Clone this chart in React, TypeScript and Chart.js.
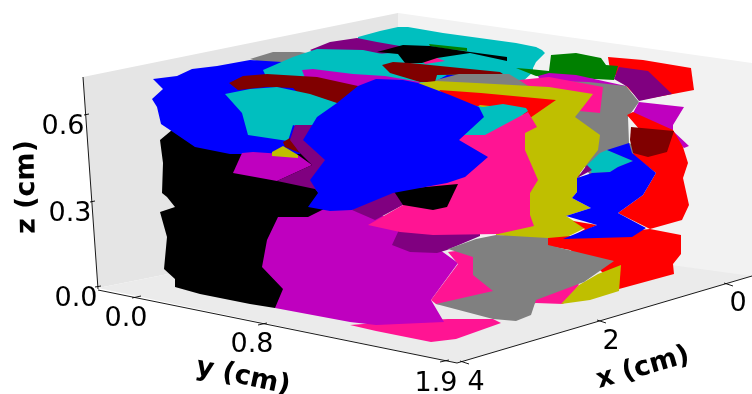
import React, { useEffect, useRef } from "react";
import { Chart, registerables } from "chart.js";

Chart.register(...registerables);

type P = number[][];

const paneLeft: P = [[83,77],[398,13],[398,228],[98,288]];
const paneRight: P = [[398,13],[752,63],[752,277],[398,228]];
const paneFloor: P = [[98,288],[398,228],[752,276],[457,363]];

const grayBack: P = [[250,59],[273,52],[300,52],[320,55],[320,65],[270,65]];
const cyanTop: P = [[358,37],[380,31],[398,27],[408,27],[443,33],[516,43],[536,47],[542,50],[545,53],[536,62],[533,68],[533,72],[520,84],[430,86],[358,72]];
const purpleTop: P = [[310,50],[330,42],[357,38],[377,42],[400,46],[403,52],[377,54],[320,56]];
const cyanMid: P = [[263,70],[293,57],[317,49],[363,50],[387,55],[403,63],[420,80],[270,85]];
const greenSmall: P = [[429,44],[467,48],[467,51],[447,49],[430,46]];
const pinkSmall: P = [[421,59],[437,58],[445,61],[425,64]];
const blackTop: P = [[377,52],[403,45],[430,46],[470,52],[507,57],[507,61],[470,53],[437,58],[422,63],[405,63],[398,54]];
const maroonTop: P = [[382,65],[393,62],[410,63],[500,72],[503,74],[437,75],[435,82],[420,82],[390,73]];
const magentaStrip: P = [[302,70],[313,69],[353,74],[385,76],[420,82],[425,100],[330,110],[305,78]];
const maroonLeft: P = [[229,83],[243,76],[267,74],[317,77],[358,86],[350,115],[320,115],[293,88],[267,87],[238,90]];
const blackLeft: P = [[172,130],[160,140],[163,163],[162,193],[167,197],[175,207],[160,212],[167,237],[164,269],[175,279],[175,287],[200,294],[250,304],[275,308],[330,300],[335,215],[335,150],[230,120]];
const blueBack: P = [[153,79],[177,76],[192,69],[217,66],[250,60],[282,62],[300,80],[320,120],[300,154],[273,154],[230,154],[195,147],[170,130],[161,124],[157,107],[152,99],[163,89],[157,83]];
const cyanLeft: P = [[225,94],[250,89],[277,87],[310,94],[337,103],[345,125],[320,135],[293,125],[288,141],[248,135],[242,113]];
const magentaSmall: P = [[242,153],[253,152],[298,155],[312,165],[277,181],[233,173]];
const yellowSmall: P = [[272,152],[283,146],[298,155],[298,158],[272,156]];
const maroonSmall: P = [[283,142],[290,138],[300,153],[285,147]];
const purpleCentre: P = [[295,125],[325,125],[335,160],[325,200],[315,189],[277,181],[312,165],[300,153],[290,140]];

const redBack: P = [[608,57],[643,60],[691,68],[694,90],[673,94],[640,100],[620,80],[610,70]];
const greenRight: P = [[516,68],[529,69],[549,71],[551,55],[576,53],[601,58],[606,65],[618,66],[614,80],[536,76]];
const blueSliver: P = [[436,81],[447,75],[460,75],[460,82]];
const magentaThin: P = [[538,76],[549,73],[576,75],[626,86],[600,90],[540,80]];
const purpleRight: P = [[619,67],[648,71],[672,94],[639,101],[628,87],[614,79]];
const grayRight: P = [[436,80],[459,74],[509,74],[519,80],[589,82],[626,86],[639,102],[628,117],[629,143],[645,150],[640,175],[590,175],[560,130],[540,100],[440,105]];
const pinkRight: P = [[519,80],[549,77],[603,87],[600,113],[579,111],[575,110],[550,100]];
const magentaRight: P = [[639,102],[684,107],[673,125],[673,131],[689,146],[684,148],[660,125],[633,113]];
const redRight: P = [[627,115],[633,112],[673,130],[683,147],[688,163],[683,178],[689,205],[682,220],[650,229],[618,213],[643,195],[656,173],[633,155],[640,130]];
const maroonRight: P = [[631,127],[674,131],[667,152],[648,157],[633,153],[630,140]];
const yellowMain: P = [[418,83],[436,81],[476,83],[549,87],[593,94],[583,107],[575,117],[600,135],[598,150],[580,173],[577,192],[572,198],[591,208],[566,216],[585,228],[563,239],[533,239],[496,235],[490,180],[520,130],[470,120]];
const redStrip: P = [[439,90],[481,93],[556,100],[530,118],[510,108],[480,105],[465,115]];
const cyanCentre: P = [[470,105],[483,107],[503,104],[526,108],[528,111],[489,138],[468,143],[455,140],[460,115]];
const redLower: P = [[548,246],[548,238],[650,229],[681,235],[681,254],[673,264],[674,274],[619,289],[600,270],[570,250]];
const redSliver: P = [[573,221],[597,225],[570,238],[585,229]];
const cyanRight: P = [[600,153],[607,150],[633,161],[618,167],[610,172],[592,173],[587,165]];
const purpleMini: P = [[587,165],[592,170],[577,178]];
const blueRight: P = [[607,150],[629,143],[632,153],[656,173],[643,195],[618,213],[646,228],[632,237],[563,239],[597,225],[566,216],[591,208],[572,198],[577,192],[577,178],[592,173],[610,172],[618,167],[633,161]];
const pinkFloor: P = [[350,325],[376,323],[448,319],[493,319],[501,323],[456,339],[431,342],[376,331]];
const magentaFront: P = [[278,217],[308,217],[332,205],[352,205],[400,222],[440,235],[440,250],[458,263],[431,300],[444,322],[376,325],[350,322],[275,308],[283,289],[262,267],[267,240]];
const purpleWedge: P = [[385,185],[410,200],[403,205],[375,220],[352,210]];
const purpleLower: P = [[398,232],[392,245],[410,252],[437,253],[447,250],[480,236],[480,225],[400,222]];
const pinkCentre: P = [[528,112],[537,127],[525,133],[525,150],[538,180],[530,193],[530,215],[534,226],[498,234],[433,235],[400,232],[368,225],[403,205],[400,175],[450,135],[485,135]];
const blackCentre: P = [[393,190],[458,184],[447,207],[433,210],[403,205]];
const blueMain: P = [[303,140],[317,117],[337,103],[358,86],[376,79],[403,80],[418,83],[450,95],[479,107],[484,117],[459,140],[488,157],[465,177],[447,183],[393,193],[352,210],[330,211],[308,207],[318,193],[310,180],[325,160]];
const pinkLower: P = [[448,252],[500,245],[560,260],[579,285],[563,304],[536,303],[500,310],[436,304],[431,300],[458,264]];
const yellowLower: P = [[561,304],[579,285],[598,274],[621,265],[619,291],[590,300]];
const grayFront: P = [[448,249],[476,239],[496,235],[548,238],[548,245],[614,261],[584,282],[536,300],[531,315],[516,321],[493,319],[436,304],[493,291],[473,275],[473,257]];

const C = {
  blue: "#0000ff", cyan: "#00bfbf", green: "#008000", red: "#ff0000", magenta: "#bf00bf",
  yellow: "#bfbf00", black: "#000000", maroon: "#800000", purple: "#800080", gray: "#808080", pink: "#ff1493",
};

const layers: [P, string][] = [
  [paneLeft, "#e5e5e5"], [paneRight, "#f2f2f2"], [paneFloor, "#ebebeb"],
  [grayBack, C.gray], [cyanTop, C.cyan], [purpleTop, C.purple], [blackLeft, C.black], [blueBack, C.blue], [cyanMid, C.cyan],
  [greenSmall, C.green], [pinkSmall, C.pink], [blackTop, C.black], [maroonTop, C.maroon],
  [magentaStrip, C.magenta], [maroonLeft, C.maroon], [cyanLeft, C.cyan],
  [magentaSmall, C.magenta], [yellowSmall, C.yellow], [maroonSmall, C.maroon], [purpleCentre, C.purple],
  [redBack, C.red], [greenRight, C.green], [blueSliver, C.blue], [magentaThin, C.magenta], [grayRight, C.gray],
  [purpleRight, C.purple], [pinkRight, C.pink], [magentaRight, C.magenta], [redRight, C.red], [maroonRight, C.maroon],
  [yellowMain, C.yellow], [redStrip, C.red], [cyanCentre, C.cyan], [redLower, C.red], [redSliver, C.red],
  [cyanRight, C.cyan], [purpleMini, C.purple], [blueRight, C.blue], [pinkFloor, C.pink], [magentaFront, C.magenta],
  [purpleWedge, C.purple], [purpleLower, C.purple], [pinkCentre, C.pink], [blackCentre, C.black], [blueMain, C.blue],
  [pinkLower, C.pink], [yellowLower, C.yellow], [grayFront, C.gray],
];

const axisZ: P = [[83,77],[98,289]];
const axisY: P = [[98,290],[457,363]];
const axisX: P = [[457,363],[752,276]];
const tickMarks: P[] = [
  [[84,115],[89,114]], [[90,202],[95,201]], [[95,287],[101,286]],
  [[132,298],[141,296]], [[258,325],[267,323]], [[440,362],[449,360]],
  [[724,283],[733,286]], [[597,320],[606,323]], [[460,361],[469,364]],
];

const tickTexts: [string, number, number][] = [
  ["0.6", 63, 127], ["0.3", 70, 214], ["0.0", 76, 299],
  ["0.0", 126, 319], ["0.8", 252, 345], ["1.9", 436, 384],
  ["0", 738, 304], ["2", 611, 342], ["4", 476, 383],
];
const axisTitles: [string, number, number, number][] = [
  ["z (cm)", 27, 187, -91], ["y (cm)", 243, 377, 12], ["x (cm)", 643, 368, -16],
];

const xy = (p: P) => p.map(([x, y]) => ({ x, y }));

const textPlugin = {
  id: "textPlugin",
  afterDraw(chart: any) {
    const { ctx, scales } = chart;
    ctx.save();
    ctx.fillStyle = "#000";
    ctx.textAlign = "center";
    ctx.textBaseline = "middle";
    ctx.font = "27px 'DejaVu Sans'";
    for (const [t, x, y] of tickTexts) ctx.fillText(t, scales.x.getPixelForValue(x), scales.y.getPixelForValue(y));
    ctx.font = "bold 27px 'DejaVu Sans'";
    for (const [t, x, y, r] of axisTitles) {
      ctx.save();
      ctx.translate(scales.x.getPixelForValue(x), scales.y.getPixelForValue(y));
      ctx.rotate((r * Math.PI) / 180);
      ctx.fillText(t, 0, 0);
      ctx.restore();
    }
    ctx.restore();
  },
};

export default function App() {
  const ref = useRef<HTMLCanvasElement>(null);
  useEffect(() => {
    const polys = layers.map(([p, color]) => ({
      data: xy(p), showLine: true, fill: "shape", backgroundColor: color, borderColor: color,
      borderWidth: 0, pointRadius: 0, tension: 0, clip: false,
    }));
    const lines = [axisZ, axisY, axisX, ...tickMarks].map((p) => ({
      data: xy(p), showLine: true, fill: false, borderColor: "#000", borderWidth: 0.9, pointRadius: 0, clip: false,
    }));
    const chart = new Chart(ref.current!, {
      type: "scatter",
      data: { datasets: [...polys, ...lines].reverse() as any },
      options: {
        animation: false, responsive: false, devicePixelRatio: 1,
        layout: { padding: 0 },
        plugins: { legend: { display: false }, tooltip: { enabled: false } },
        events: [],
        scales: {
          x: { type: "linear", display: false, min: 0, max: 752 },
          y: { type: "linear", display: false, min: 0, max: 394, reverse: true },
        },
      },
      plugins: [textPlugin],
    } as any);
    return () => chart.destroy();
  }, []);
  return (
    <div style={{ position: "fixed", left: 0, top: 0, width: 752, height: 394, background: "#fff" }}>
      <canvas ref={ref} width={752} height={394} style={{ display: "block" }} />
    </div>
  );
}
